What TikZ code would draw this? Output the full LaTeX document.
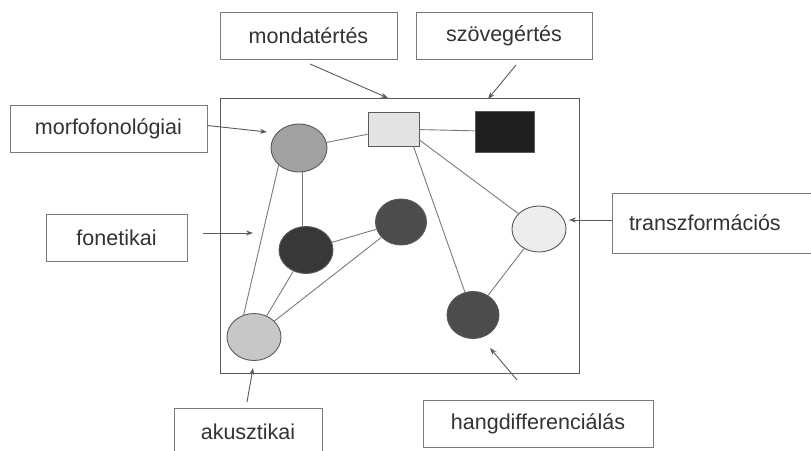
\documentclass[tikz,border=0pt]{standalone}
\usepackage{fontspec}
\setmainfont{Liberation Sans}
\usetikzlibrary{arrows.meta}
\definecolor{txt}{HTML}{333333}
\definecolor{edgec}{HTML}{7A7A7A}
\definecolor{framec}{HTML}{5A5A5A}
\tikzset{
  lbl/.style={draw=edgec, line width=0.8pt, fill=white, text=txt, font=\fontsize{21.5}{24}\selectfont, inner sep=0pt},
  blob/.style={ellipse, draw=framec, line width=0.9pt},
  con/.style={draw=edgec, line width=0.9pt},
  ptr/.style={draw=framec, line width=0.9pt, -{Stealth[length=7pt,width=5pt]}}
}
\usetikzlibrary{shapes.geometric}
\begin{document}
\begin{tikzpicture}[x=1pt,y=-1pt]
\useasboundingbox (0,0) rectangle (811,450);
\clip (0,0) rectangle (811,450);
\fill[white] (0,0) rectangle (811,450);
% frame
\node[draw=framec, line width=0.9pt, minimum width=359pt, minimum height=275pt, inner sep=0pt] (frame) at (399.5,235.5) {};
% label boxes
\node[lbl, minimum width=177pt, minimum height=47pt] (mond) at (308.5,35.5) {mondatértés};
\node[lbl, minimum width=176pt, minimum height=47pt] (szov) at (504,35.5) {szövegértés};
\node[lbl, minimum width=197pt, minimum height=47pt] (morf) at (108.5,128.5) {morfofonológiai};
\node[lbl, minimum width=141pt, minimum height=47pt] (fon) at (116.5,237.5) {fonetikai};
\node[lbl, minimum width=220pt, minimum height=60pt, text width=200pt, align=left] (trans) at (722,223) {\hspace*{7pt}transzformációs};
\node[lbl, minimum width=230pt, minimum height=47pt] (hang) at (538,423.5) {hangdifferenciálás};
\node[lbl, minimum width=148pt, minimum height=60pt, anchor=north] (akl) at (248,408) {};
\node[text=txt, font=\fontsize{21.5}{24}\selectfont, inner sep=0pt] (akt) at (248,432) {akusztikai};
% inner shapes
\node[blob, fill=black!37, minimum width=56pt, minimum height=48pt, inner sep=0pt] (e1) at (299,148) {};
\node[draw=framec, line width=0.9pt, fill=black!11, minimum width=51pt, minimum height=34pt, inner sep=0pt] (r1) at (393.5,129) {};
\node[draw=framec, line width=0.9pt, fill=black!88, minimum width=59pt, minimum height=41pt, inner sep=0pt] (r2) at (504.5,131.5) {};
\node[blob, fill=black!78, minimum width=54pt, minimum height=47pt, inner sep=0pt] (e2) at (306,250) {};
\node[blob, fill=black!70, minimum width=51pt, minimum height=46pt, inner sep=0pt] (e3) at (401,222) {};
\node[blob, fill=black!22, minimum width=54pt, minimum height=47pt, inner sep=0pt] (e4) at (254,337) {};
\node[blob, fill=black!7, minimum width=54pt, minimum height=46pt, inner sep=0pt] (e5) at (539,229) {};
\node[blob, fill=black!70, minimum width=52pt, minimum height=47pt, inner sep=0pt] (e6) at (473,315) {};
% connectors
\draw[con] (e1) -- (r1);
\draw[con] (r1) -- (r2);
\draw[con] (e1.south) ++(3,0) coordinate (e1s) (e1s) -- (e2.north -| e1s);
\draw[con] (e1.220) -- (e4.115);
\draw[con] (e2) -- (e3);
\draw[con] (e2) -- (e4);
\draw[con] (e3) -- (e4);
\draw[con] (r1.south east) ++(-6,0) coordinate (r1b) (r1b) -- (e6);
\draw[con] (r1.east) ++(0,11) coordinate (r1c) (r1c) -- (e5);
\draw[con] (e5) -- (e6);
% pointers
\coordinate (p1s) at (310,64); \coordinate (p1e) at (388,98);
\draw[ptr] (p1s) -- (p1e);
\coordinate (p2s) at (516,65); \coordinate (p2e) at (488,99);
\draw[ptr] (p2s) -- (p2e);
\coordinate (p3e) at (267,132);
\draw[ptr] (morf.east) ++(0,-3) coordinate (p3s) (p3s) -- (p3e);
\coordinate (p4s) at (203,233); \coordinate (p4e) at (253,233);
\draw[ptr] (p4s) -- (p4e);
\coordinate (p5s) at (612,220); \coordinate (p5e) at (569,220);
\draw[ptr] (p5s) -- (p5e);
\coordinate (p6s) at (517,380); \coordinate (p6e) at (490,348);
\draw[ptr] (p6s) -- (p6e);
\coordinate (p7s) at (247,402); \coordinate (p7e) at (253,368);
\draw[ptr] (p7s) -- (p7e);
\end{tikzpicture}
\end{document}
